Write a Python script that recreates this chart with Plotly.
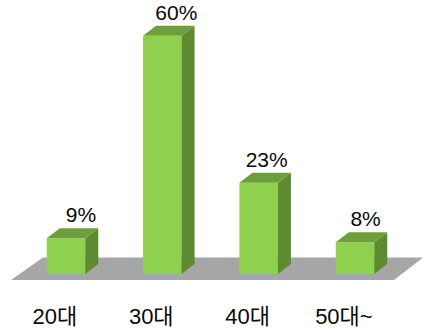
import plotly.graph_objects as go

categories = ["20대", "30대", "40대", "50대~"]
values = [9, 60, 23, 8]
labels = ["9%", "60%", "23%", "8%"]
label_shift = [0.155, 0.145, 0.083, 0.11]

# axis scale: pixels per unit
PX_X = 96.33
PX_Y = 3.97
W, H = 424, 330
X0, Y0 = 66, 274
BAR_W = 38.5 / PX_X
DX = 13 / PX_X
DY = 10 / PX_Y
FONT = "Liberation Sans, Arial, Noto Sans CJK KR, sans-serif"

xs = list(range(len(values)))
fig = go.Figure()

# front faces
fig.add_trace(go.Bar(x=xs, y=values, width=BAR_W, marker=dict(color="#8fd14f", line=dict(width=0)),
                     hoverinfo="skip"))

# side and top faces
for x, v in zip(xs, values):
    r = x + BAR_W / 2
    l = x - BAR_W / 2
    fig.add_trace(go.Scatter(x=[r, r + DX, r + DX, r, r], y=[0, DY, v + DY, v, 0], mode="lines",
                             fill="toself", fillcolor="#5e8a30", line=dict(width=0), hoverinfo="skip"))
    fig.add_trace(go.Scatter(x=[l, l + DX, r + DX, r, l], y=[v, v + DY, v + DY, v, v], mode="lines",
                             fill="toself", fillcolor="#6f9f3c", line=dict(width=0), hoverinfo="skip"))

# value labels
fig.add_trace(go.Scatter(x=[x + s for x, s in zip(xs, label_shift)],
                         y=[v + DY + 2.85 for v in values], mode="text",
                         text=labels, textposition="middle center",
                         textfont=dict(family=FONT, size=21, color="#0a0a0a"), hoverinfo="skip"))

# category labels
fig.add_trace(go.Scatter(x=[x - 0.115 for x in xs], y=[-11.1] * len(xs), mode="text",
                         text=categories, textposition="middle center",
                         textfont=dict(family=FONT, size=22, color="#0a0a0a"), hoverinfo="skip"))

# floor
floor_y0 = -6 / PX_Y
floor_y1 = 16.5 / PX_Y
x_l0, x_l1 = (11 - X0) / PX_X, (43 - X0) / PX_X
x_r0, x_r1 = (394 - X0) / PX_X, (423 - X0) / PX_X
floor_path = f"M {x_l0} {floor_y0} L {x_l1} {floor_y1} L {x_r1} {floor_y1} L {x_r0} {floor_y0} Z"

fig.update_layout(
    width=W, height=H,
    autosize=False,
    margin=dict(l=0, r=0, t=0, b=0),
    paper_bgcolor="white", plot_bgcolor="white",
    showlegend=False,
    xaxis=dict(range=[-X0 / PX_X, (W - X0) / PX_X], visible=False, fixedrange=True),
    yaxis=dict(range=[-(H - Y0) / PX_Y, Y0 / PX_Y], visible=False, fixedrange=True),
    shapes=[dict(type="path", path=floor_path, xref="x", yref="y", layer="below",
                 fillcolor="#a6a6a6", line=dict(width=0))],
)
fig.write_html("out.html", config={"displayModeBar": False},
               post_script="document.body.style.margin='0';document.documentElement.style.overflow='hidden';")
